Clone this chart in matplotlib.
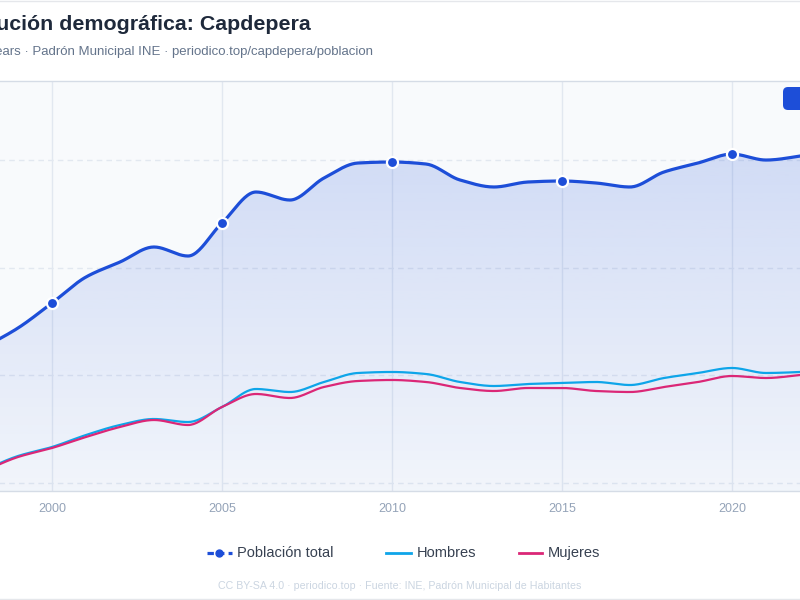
import numpy as np
import matplotlib
matplotlib.use("Agg")
import matplotlib.pyplot as plt
from matplotlib.lines import Line2D
from matplotlib.patches import FancyBboxPatch, Polygon
from matplotlib.transforms import IdentityTransform

plt.rcParams['font.family'] = ['Liberation Sans', 'DejaVu Sans']

# Padrón data
years = list(range(1998, 2025))
total = [6780, 7318, 8015, 8739, 9157, 9575, 9324, 10244, 11107, 10884, 11497, 11915, 11943,
         11887, 11442, 11247, 11386, 11414, 11358, 11247, 11665, 11915, 12164, 11998, 12109,
         12300, 12500]
hombres = [3362, 3752, 4003, 4337, 4616, 4783, 4699, 5117, 5619, 5535, 5814, 6065, 6093,
           6037, 5814, 5702, 5758, 5786, 5814, 5730, 5925, 6065, 6204, 6065, 6093, 6180, 6280]
mujeres = [3334, 3724, 3975, 4282, 4560, 4755, 4616, 5117, 5480, 5368, 5675, 5842, 5870,
           5814, 5647, 5563, 5647, 5647, 5563, 5535, 5675, 5814, 5981, 5925, 6009, 6120, 6220]
marker_years = [2000, 2005, 2010, 2015, 2020]
xticks = [2000, 2005, 2010, 2015, 2020]
yticks = [3000, 6000, 9000, 12000]
series_names = ['Población total', 'Hombres', 'Mujeres']

BLUE = '#1d4ed8'
CYAN = '#0ea5e9'
PINK = '#db2777'


def monotone(xs, ys, n=24):
    """Monotone cubic curve through the points (like chart.js 'monotone')."""
    x = np.asarray(xs, float)
    y = np.asarray(ys, float)
    d = np.diff(y) / np.diff(x)
    m = np.zeros_like(y)
    m[0], m[-1] = d[0], d[-1]
    for i in range(1, len(y) - 1):
        if d[i - 1] * d[i] > 0:
            m[i] = 2.0 / (1.0 / d[i - 1] + 1.0 / d[i])
    xx, yy = [], []
    for i in range(len(x) - 1):
        h = x[i + 1] - x[i]
        t = np.linspace(0, 1, n, endpoint=False)
        h00 = 2 * t**3 - 3 * t**2 + 1
        h10 = t**3 - 2 * t**2 + t
        h01 = -2 * t**3 + 3 * t**2
        h11 = t**3 - t**2
        xx.append(x[i] + t * h)
        yy.append(h00 * y[i] + h10 * h * m[i] + h01 * y[i + 1] + h11 * h * m[i + 1])
    xx.append([x[-1]])
    yy.append([y[-1]])
    return np.concatenate(xx), np.concatenate(yy)


fig = plt.figure(figsize=(8, 6), dpi=100)
fig.patch.set_facecolor('white')

# axes wider than the canvas: the picture is a crop of a wider chart
ax = fig.add_axes([-0.2, 1 - 491 / 600, 1.4, 410 / 600])
ax.set_facecolor('#f8fafc')

x0, x1 = 1993.765, 2026.706
y0, y1 = 2777, 14200

sx, sy = monotone(years, total)
hx, hy = monotone(years, hombres)
mx, my = monotone(years, mujeres)

# gradient fill under the total line
alpha = np.linspace(0.03, 0.21, 256)
img = np.zeros((256, 1, 4))
img[..., 0], img[..., 1], img[..., 2] = 29 / 255, 78 / 255, 216 / 255
img[:, 0, 3] = alpha
im = ax.imshow(img, extent=[x0, x1, y0, y1], origin='lower', aspect='auto', zorder=1)
poly = Polygon(np.column_stack([np.r_[sx, sx[::-1]], np.r_[sy, np.full_like(sy, y0)]]),
               closed=True, facecolor='none', edgecolor='none', transform=ax.transData)
ax.add_patch(poly)
im.set_clip_path(poly)

ax.plot(hx, hy, color=CYAN, lw=1.6, zorder=3, solid_capstyle='round')
ax.plot(mx, my, color=PINK, lw=1.6, zorder=3, solid_capstyle='round')
ax.plot(sx, sy, color=BLUE, lw=2.3, zorder=4, solid_capstyle='round')
mk = [total[years.index(y)] for y in marker_years]
ax.plot(marker_years, mk, 'o', ms=8, color=BLUE, mec='white', mew=1.6, zorder=5)

ax.set_xlim(x0, x1)
ax.set_ylim(y0, y1)
ax.set_xticks(xticks)
ax.set_yticks(yticks)
ax.tick_params(axis='x', length=0, pad=9, labelsize=9, labelcolor='#94a3b8')
ax.tick_params(axis='y', length=0, labelleft=False)
ax.grid(axis='x', color='#e2e8f0', lw=1)
ax.grid(axis='y', color='#e2e8f0', lw=1, dashes=(4, 3))
ax.set_axisbelow(True)
for s in ax.spines.values():
    s.set_color('#d5dce6')
    s.set_linewidth(1)

# title block (left part cut off in the reference)
fig.text(311 / 800, 1 - 24 / 600, 'Evolución demográfica: Capdepera', ha='right', va='center',
         fontsize=15.4, fontweight='bold', color='#1e293b')
fig.text(373 / 800, 1 - 52 / 600,
         '1998–2024 · 27 years · Padrón Municipal INE · periodico.top/capdepera/poblacion',
         ha='right', va='center', fontsize=9.55, color='#64748b')

# blue button at top right (cut off)
fig.add_artist(FancyBboxPatch((783, 600 - 110), 60, 23, boxstyle='round,pad=0,rounding_size=5',
                              facecolor=BLUE, edgecolor='none', transform=IdentityTransform()))

# legend, laid out by hand in pixels like the reference
ly = 1 - 553 / 600
leg_items = [
    (207, 232, 237, dict(color=BLUE, lw=2.3, ls=(0, (2, 1.3)), marker='o', ms=5,
                         markevery=[1])),
    (386, 411, 417, dict(color=CYAN, lw=2)),
    (519, 542, 548, dict(color=PINK, lw=2)),
]
for (ha_, hb_, tx, style), name in zip(leg_items, series_names):
    fig.add_artist(Line2D([ha_ / 800, (ha_ + hb_) / 1600, hb_ / 800], [ly] * 3, **style))
    fig.text(tx / 800, ly, name, ha='left', va='center', fontsize=10.5, color='#374151')

fig.text(399.5 / 800, 1 - 586 / 600,
         'CC BY-SA 4.0 · periodico.top · Fuente: INE, Padrón Municipal de Habitantes',
         ha='center', va='center', fontsize=7.7, color='#cbd5e1')

# card borders
fig.add_artist(Line2D([0, 1], [1 - 0.5 / 600] * 2, color='#e5e7eb', lw=1))
fig.add_artist(Line2D([0, 1], [1 - 598.5 / 600] * 2, color='#e5e7eb', lw=1))

fig.savefig('out.png', dpi=100)
plt.close(fig)
